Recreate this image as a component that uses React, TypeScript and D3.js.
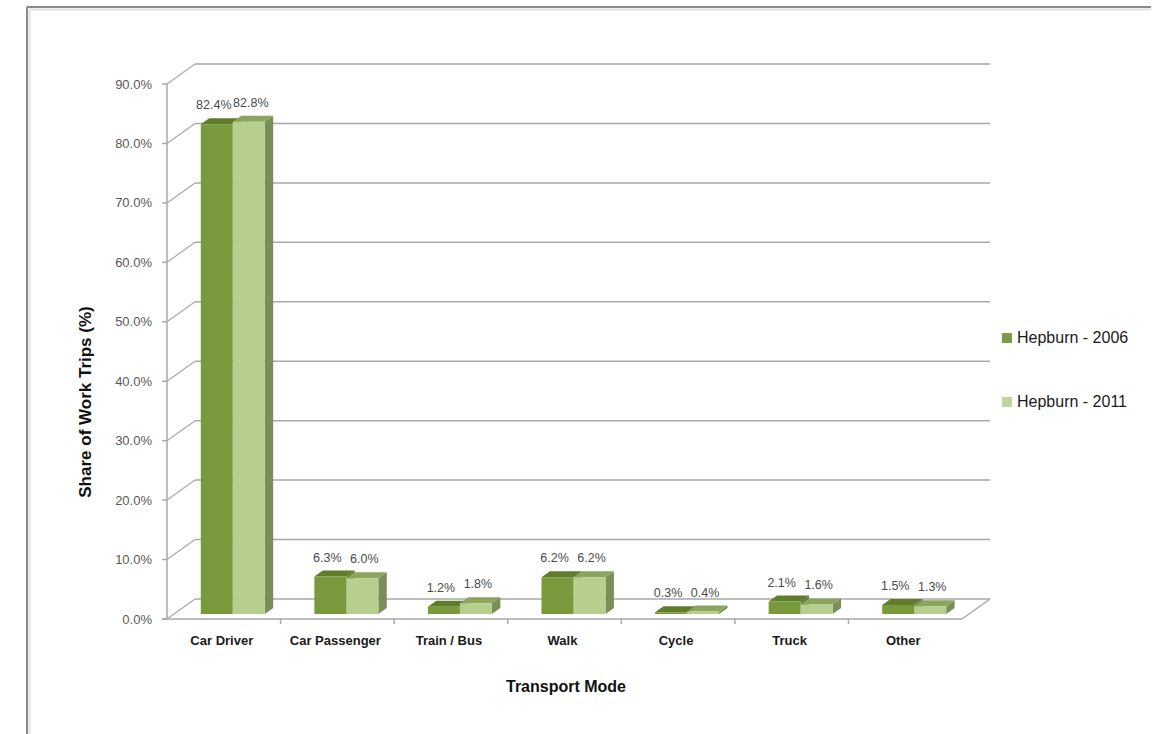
import React from "react";
import * as d3 from "d3";

const categories = ["Car Driver", "Car Passenger", "Train / Bus", "Walk", "Cycle", "Truck", "Other"];
const seriesNames = ["Hepburn - 2006", "Hepburn - 2011"];
const values2006 = [82.4, 6.3, 1.2, 6.2, 0.3, 2.1, 1.5];
const values2011 = [82.8, 6.0, 1.8, 6.2, 0.4, 1.6, 1.3];
const yTicks = [0, 10, 20, 30, 40, 50, 60, 70, 80, 90];

const W = 1160;
const H = 734;
const DX = 28;
const DY = -20;
const D0 = 0.25;
const D1 = 0.55;

const colors = [
  { front: "#789A3C", top: "#5F7D2A", side: "#637F31", legend: "#7F9B4A" },
  { front: "#B7CF8E", top: "#8CA55C", side: "#7A8E57", legend: "#C0D49C" },
];

const y = d3.scaleLinear().domain([0, 90]).range([619, 84]);
const x = d3.scaleBand<string>().domain(categories).range([167, 962]);
const xs = d3.scaleBand<string>().domain(seriesNames).range([0, 64]);

const fmt = (v: number) => v.toFixed(1) + "%";
const P = (px: number, py: number, d: number) => [px + DX * d, py + DY * d];
const poly = (pts: number[][]) => pts.map((p) => p.join(",")).join(" ");

export default function App() {
  const bw = x.bandwidth();
  const inner = (bw - 64) / 2 + 2;
  const bars: any[] = [];
  const labels: any[] = [];
  categories.forEach((c, i) => {
    [values2006, values2011].forEach((vals, s) => {
      const v = vals[i];
      const x0 = (x(c) as number) + inner + (xs(seriesNames[s]) as number);
      const x1 = x0 + xs.bandwidth();
      const yv = y(v);
      const y0 = y(0);
      const col = colors[s];
      bars.push(
        <g key={`${c}-${s}`}>
          <polygon
            points={poly([P(x1, yv, D0), P(x1, y0, D0), P(x1, y0, D1), P(x1, yv, D1)])}
            fill={col.side}
          />
          <polygon
            points={poly([P(x0, yv, D0), P(x1, yv, D0), P(x1, yv, D1), P(x0, yv, D1)])}
            fill={col.top}
          />
          <polygon
            points={poly([P(x0, yv, D0), P(x1, yv, D0), P(x1, y0, D0), P(x0, y0, D0)])}
            fill={col.front}
          />
        </g>
      );
      const fc = P((x0 + x1) / 2, yv, D0)[0];
      const ly = P(x0, yv, D1)[1];
      labels.push(
        <text
          key={`l-${c}-${s}`}
          x={fc + (s === 0 ? -3 : 2)}
          y={ly - 9}
          textAnchor="middle"
          fontSize={12.5}
          fill="#4a4a4a"
        >
          {fmt(v)}
        </text>
      );
    });
  });

  const gridColor = "#a9a9a9";
  return (
    <svg
      width={W}
      height={H}
      style={{ position: "absolute", left: 0, top: 0, background: "#fff" }}
      fontFamily="'Liberation Sans', Arial, sans-serif"
    >
      {/* outer frame */}
      <line x1={27} y1={7} x2={1151} y2={7} stroke="#8a8a8a" strokeWidth={2} />
      <line x1={27} y1={7} x2={27} y2={734} stroke="#8a8a8a" strokeWidth={2} />
      <line x1={29} y1={9.5} x2={1151} y2={9.5} stroke="#e2e2e2" strokeWidth={2} />
      <line x1={29.5} y1={9} x2={29.5} y2={734} stroke="#e2e2e2" strokeWidth={2} />

      {/* walls */}
      {yTicks.map((t) => {
        const yy = y(t);
        const [bx, by] = P(167, yy, 1);
        const [ex, ey] = P(962, yy, 1);
        return (
          <g key={`g${t}`}>
            <line x1={bx} y1={by} x2={ex} y2={ey} stroke={gridColor} strokeWidth={1.5} />
            {t > 0 && (
              <line x1={167} y1={yy} x2={bx} y2={by} stroke={gridColor} strokeWidth={1.2} />
            )}
            <line x1={162} y1={yy} x2={167} y2={yy} stroke={gridColor} strokeWidth={1.5} />
            <text x={152} y={yy + 4.5} textAnchor="end" fontSize={13} fill="#595959">
              {fmt(t)}
            </text>
          </g>
        );
      })}
      {/* front axis and floor */}
      <line x1={167} y1={y(0)} x2={167} y2={y(90)} stroke={gridColor} strokeWidth={1.5} />
      <line x1={167} y1={y(0)} x2={P(167, y(0), 1)[0]} y2={P(167, y(0), 1)[1]} stroke={gridColor} strokeWidth={1.2} />
      <line x1={162} y1={y(0)} x2={962} y2={y(0)} stroke={gridColor} strokeWidth={1.5} />
      <line x1={962} y1={y(0)} x2={P(962, y(0), 1)[0]} y2={P(962, y(0), 1)[1]} stroke={gridColor} strokeWidth={1.5} />
      {categories.map((c, i) => (
        <line
          key={`ct${c}`}
          x1={(x(c) as number) + bw}
          y1={y(0)}
          x2={(x(c) as number) + bw}
          y2={y(0) + 5}
          stroke={gridColor}
          strokeWidth={1.5}
          display={i === categories.length - 1 ? "none" : undefined}
        />
      ))}

      {bars}
      {labels}

      {categories.map((c) => (
        <text
          key={`cl${c}`}
          x={(x(c) as number) + bw / 2 - 2}
          y={645}
          textAnchor="middle"
          fontSize={13}
          fontWeight="bold"
          fill="#1a1a1a"
        >
          {c}
        </text>
      ))}

      <text x={566} y={692} textAnchor="middle" fontSize={16} fontWeight="bold" fill="#111">
        Transport Mode
      </text>
      <text
        transform="translate(91,402) rotate(-90)"
        textAnchor="middle"
        fontSize={17}
        fontWeight="bold"
        fill="#111"
      >
        Share of Work Trips (%)
      </text>

      {seriesNames.map((n, s) => (
        <g key={`lg${n}`} transform={`translate(1002,${333 + s * 64})`}>
          <rect width={10} height={10} fill={colors[s].legend} />
          <text x={15} y={10} fontSize={16} fill="#1a1a1a">
            {n}
          </text>
        </g>
      ))}
    </svg>
  );
}
